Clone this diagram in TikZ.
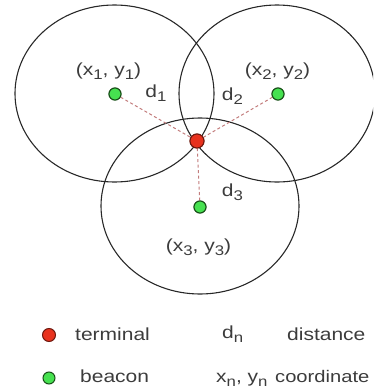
\documentclass[tikz,border=0pt]{standalone}
\usepackage{fontspec}
\setmainfont[FakeStretch=1.2]{Liberation Sans}
\newcommand{\lsub}[1]{\raisebox{-4.5pt}{\fontsize{14}{14}\selectfont #1}}
\definecolor{ringc}{RGB}{40,40,40}
\definecolor{textc}{RGB}{60,60,60}
\definecolor{dashc}{RGB}{195,125,125}
\definecolor{beaconfill}{RGB}{70,225,80}
\definecolor{beacondraw}{RGB}{25,80,25}
\definecolor{termfill}{RGB}{232,50,30}
\definecolor{termdraw}{RGB}{110,25,15}
\tikzset{
  ring/.style={draw=ringc, line width=1.1pt},
  beacon/.style={circle, fill=beaconfill, draw=beacondraw, line width=1pt, minimum size=12pt, inner sep=0pt},
  terminal/.style={circle, fill=termfill, draw=termdraw, line width=1pt, minimum size=14pt, inner sep=0pt},
  dist/.style={draw=dashc, line width=1pt, dash pattern=on 3pt off 2.5pt},
  lbl/.style={text=textc, inner sep=0pt, anchor=base, font=\fontsize{17.5}{17.5}\selectfont},
  legtxt/.style={text=textc, inner sep=0pt, anchor=base west, font=\fontsize{17.5}{17.5}\selectfont}
}
\begin{document}
\begin{tikzpicture}[x=1pt,y=-1pt]
\useasboundingbox (0,0) rectangle (373,391);
\begin{scope}
\clip (0,0) rectangle (373,391);
\draw[ring] (114.5,93.5) ellipse [x radius=99.5pt, y radius=88.5pt];
\draw[ring] (277,93.5) ellipse [x radius=98pt, y radius=88.5pt];
\draw[ring] (200,206) ellipse [x radius=99pt, y radius=88pt];
\end{scope}
% nodes
\node[beacon] (b1) at (115,94) {};
\node[beacon] (b2) at (278,94) {};
\node[beacon] (b3) at (200,207) {};
\node[terminal] (t) at (197,141) {};
% distances
\draw[dist] (b1) -- (t);
\draw[dist] (b2) -- (t);
\draw[dist] (b3) -- (t);
\node[beacon] at (b1) {};
\node[beacon] at (b2) {};
\node[beacon] at (b3) {};
\node[terminal] at (t) {};
% labels
\node[lbl] (c1) at (108.5,75) {(x\lsub{1}, y\lsub{1})};
\node[lbl] (c2) at (277.5,75) {(x\lsub{2}, y\lsub{2})};
\node[lbl] (c3) at (198.5,251) {(x\lsub{3}, y\lsub{3})};
\node[lbl] (d1) at (156,97) {d\lsub{1}};
\node[lbl] (d2) at (232.5,100) {d\lsub{2}};
\node[lbl] (d3) at (232.5,196) {d\lsub{3}};
% legend
\node[terminal, minimum size=13pt] (lt) at (49,335) {};
\node[beacon, minimum size=12pt] (lb) at (49,378) {};
\node[legtxt] (ltt) at (75,340) {terminal};
\node[legtxt] (lbt) at (80,382) {beacon};
\node[legtxt] (ldn) at (222,338) {d\lsub{n}};
\node[legtxt] (ldt) at (287,340) {distance};
\node[legtxt] (lxn) at (216,382) {x\lsub{n}, y\lsub{n}};
\node[legtxt, font=\fontsize{16.8}{16.8}\selectfont] (lct) at (275,382) {coordinate};
\end{tikzpicture}
\end{document}
